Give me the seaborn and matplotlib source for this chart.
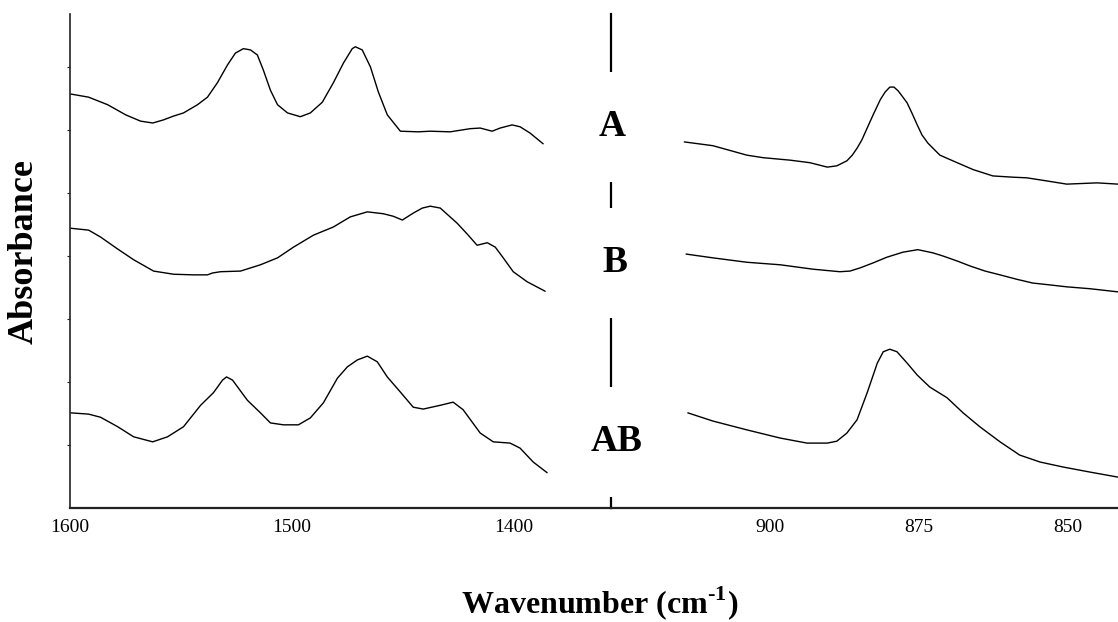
import matplotlib
matplotlib.use("Agg")
import matplotlib.pyplot as plt
import seaborn as sns

# FTIR spectra of samples A, B and AB (vertically offset, arbitrary absorbance units)
# High-wavenumber window (1600-1385 cm-1)
wn_hi_A = [1599.7, 1591.6, 1583.0, 1574.9, 1568.2, 1562.7, 1557.8, 1553.3, 1548.8,
           1542.5, 1538.0, 1533.5, 1529.0, 1525.4, 1521.8, 1518.6, 1515.5, 1512.8,
           1509.6, 1506.4, 1501.9, 1496.1, 1491.6, 1486.2, 1481.2, 1476.7, 1472.7,
           1471.3, 1468.2, 1464.5, 1460.9, 1456.9, 1451.0, 1442.9, 1437.5, 1428.5,
           1419.5, 1415.0, 1409.6, 1406.0, 1400.6, 1397.0, 1392.5, 1386.6]
abs_hi_A = [6.57, 6.52, 6.40, 6.24, 6.14, 6.11, 6.16, 6.22, 6.27,
            6.40, 6.52, 6.75, 7.03, 7.22, 7.29, 7.27, 7.19, 6.95,
            6.63, 6.40, 6.27, 6.21, 6.27, 6.44, 6.75, 7.06, 7.29,
            7.32, 7.27, 7.00, 6.60, 6.24, 5.98, 5.97, 5.98, 5.97,
            6.02, 6.03, 5.98, 6.03, 6.08, 6.05, 5.95, 5.78]

wn_hi_B = [1599.7, 1591.6, 1586.2, 1578.5, 1571.3, 1562.3, 1553.3, 1544.3, 1538.0,
           1535.7, 1532.1, 1523.1, 1514.1, 1506.4, 1499.2, 1490.2, 1481.2, 1473.6,
           1465.9, 1458.7, 1454.2, 1450.1, 1445.2, 1441.1, 1437.5, 1433.0, 1425.4,
           1420.9, 1416.4, 1411.8, 1408.2, 1404.6, 1400.1, 1393.8, 1385.7]
abs_hi_B = [4.44, 4.41, 4.30, 4.11, 3.94, 3.76, 3.71, 3.70, 3.70,
            3.73, 3.75, 3.76, 3.86, 3.97, 4.14, 4.33, 4.46, 4.62,
            4.70, 4.67, 4.63, 4.57, 4.68, 4.76, 4.79, 4.76, 4.52,
            4.35, 4.17, 4.21, 4.14, 3.97, 3.75, 3.59, 3.44]

wn_hi_AB = [1599.7, 1591.6, 1586.2, 1578.5, 1571.3, 1562.7, 1556.0, 1548.8, 1541.1,
            1535.3, 1531.2, 1529.4, 1526.7, 1520.0, 1514.1, 1509.6, 1503.7, 1497.0,
            1491.6, 1485.7, 1479.4, 1474.9, 1470.4, 1465.9, 1461.4, 1456.9, 1451.0,
            1445.2, 1440.7, 1433.0, 1427.2, 1422.7, 1415.0, 1409.1, 1401.5, 1397.0,
            1391.1, 1384.8]
abs_hi_AB = [1.51, 1.49, 1.44, 1.29, 1.13, 1.05, 1.13, 1.29, 1.63,
             1.83, 2.03, 2.08, 2.03, 1.71, 1.51, 1.35, 1.32, 1.32,
             1.43, 1.67, 2.06, 2.24, 2.35, 2.41, 2.32, 2.08, 1.84,
             1.60, 1.57, 1.63, 1.68, 1.56, 1.19, 1.05, 1.03, 0.95,
             0.73, 0.56]

# Low-wavenumber window (915-842 cm-1)
wn_lo_A = [914.4, 909.6, 903.9, 901.2, 896.6, 893.3, 890.4, 888.8, 887.1, 886.2,
           885.4, 884.6, 883.7, 882.7, 881.5, 880.7, 879.9, 879.2, 878.5, 877.7,
           877.0, 876.2, 875.3, 874.5, 873.5, 871.5, 868.6, 865.9, 862.6, 859.2,
           856.9, 853.5, 850.2, 845.1, 841.6]
abs_lo_A = [5.81, 5.75, 5.60, 5.56, 5.52, 5.48, 5.41, 5.43, 5.51, 5.60,
            5.71, 5.84, 6.03, 6.24, 6.48, 6.60, 6.68, 6.68, 6.62, 6.52,
            6.43, 6.27, 6.08, 5.92, 5.79, 5.60, 5.48, 5.37, 5.27, 5.25,
            5.24, 5.19, 5.14, 5.16, 5.14]

wn_lo_B = [914.1, 909.6, 903.9, 898.3, 892.8, 888.3, 886.6, 884.9, 882.7, 880.4,
           877.7, 875.2, 872.7, 871.0, 868.6, 866.4, 863.9, 861.4, 858.6, 855.9,
           853.0, 850.2, 846.3, 841.6]
abs_lo_B = [4.03, 3.97, 3.90, 3.86, 3.79, 3.75, 3.76, 3.81, 3.89, 3.98,
            4.06, 4.10, 4.05, 4.00, 3.92, 3.84, 3.76, 3.70, 3.63, 3.57,
            3.54, 3.51, 3.48, 3.43]

wn_lo_AB = [913.8, 909.6, 903.9, 898.3, 893.8, 890.4, 888.8, 887.1, 885.4, 883.7,
            882.0, 881.0, 879.9, 878.7, 877.0, 875.3, 873.2, 870.3, 867.6, 864.8,
            861.4, 858.1, 854.7, 850.8, 846.3, 841.6]
abs_lo_AB = [1.51, 1.38, 1.24, 1.11, 1.03, 1.03, 1.06, 1.19, 1.40, 1.83,
             2.30, 2.48, 2.52, 2.48, 2.30, 2.11, 1.92, 1.75, 1.51, 1.29,
             1.05, 0.84, 0.73, 0.65, 0.57, 0.49]

sample_names = ["A", "B", "AB"]
hi_ticks = [1600, 1500, 1400]
lo_ticks = [900, 875, 850]
y_ticks = [1, 2, 3, 4, 5, 6, 7]

sns.set_theme(style="ticks")
plt.rcParams["font.family"] = ["Liberation Serif", "DejaVu Serif"]
plt.rcParams["mathtext.fontset"] = "custom"
plt.rcParams["mathtext.rm"] = "Liberation Serif"
plt.rcParams["mathtext.bf"] = "Liberation Serif:bold"
plt.rcParams["text.color"] = "black"
plt.rcParams["xtick.color"] = "black"
plt.rcParams["ytick.color"] = "black"

W, H = 1118, 622
fig = plt.figure(figsize=(W / 100, H / 100), dpi=100)
fig.patch.set_facecolor("white")

bottom, height = 114 / H, 494 / H
ax_hi = fig.add_axes([70 / W, bottom, 541 / W, height])
ax_lo = fig.add_axes([611 / W, bottom, 507 / W, height], sharey=ax_hi)

line_kw = dict(color="black", linewidth=1.0)
for wn, ab in [(wn_hi_A, abs_hi_A), (wn_hi_B, abs_hi_B), (wn_hi_AB, abs_hi_AB)]:
    sns.lineplot(x=wn, y=ab, ax=ax_hi, **line_kw)
for wn, ab in [(wn_lo_A, abs_lo_A), (wn_lo_B, abs_lo_B), (wn_lo_AB, abs_lo_AB)]:
    sns.lineplot(x=wn, y=ab, ax=ax_lo, **line_kw)

ax_hi.set_xlim(1599.7, 1356.0)
ax_lo.set_xlim(926.7, 841.6)
ax_hi.set_ylim(0, 7.84)

for ax in (ax_hi, ax_lo):
    ax.set_facecolor("white")
    ax.set_xlabel("")
    ax.set_ylabel("")
    ax.spines["top"].set_visible(False)
    ax.spines["right"].set_visible(False)
    ax.spines["bottom"].set_linewidth(1.6)
    ax.spines["bottom"].set_color("#222222")
    ax.tick_params(axis="x", length=0, pad=8, labelsize=14, colors="black")

ax_hi.set_xticks(hi_ticks)
ax_hi.set_xticklabels([str(t) for t in hi_ticks])
ax_lo.set_xticks(lo_ticks)
ax_lo.set_xticklabels([str(t) for t in lo_ticks])

ax_hi.spines["left"].set_linewidth(1.2)
ax_hi.spines["left"].set_color("#222222")
ax_hi.set_yticks(y_ticks)
ax_hi.tick_params(axis="y", direction="out", length=2.5, width=0.8,
                  labelleft=False, color="#222222")

# axis break: the left spine of the low-wavenumber panel acts as divider
ax_lo.spines["left"].set_linewidth(1.6)
ax_lo.spines["left"].set_color("black")
ax_lo.tick_params(axis="y", left=False, labelleft=False)

label_pos = {"A": (612.5, 136), "B": (615, 272), "AB": (617, 451)}
for name in sample_names:
    x, y = label_pos[name]
    fig.text(x / W, 1 - y / H, name, ha="center", va="baseline",
             fontsize=27, fontweight="bold", color="black", zorder=5,
             bbox=dict(boxstyle="square,pad=1.0", facecolor="white",
                       edgecolor="none"))

fig.text(24 / W, 1 - 252 / H, "Absorbance", rotation=90, ha="center",
         va="center", fontsize=26, fontweight="bold")
fig.text(600 / W, 1 - 603 / H, "Wavenumber (cm$^{\\mathbf{\u2010}\\mathbf{1}}$)",
         ha="center", va="center", fontsize=23, fontweight="bold")

fig.savefig("out.png", dpi=100, facecolor="white")
